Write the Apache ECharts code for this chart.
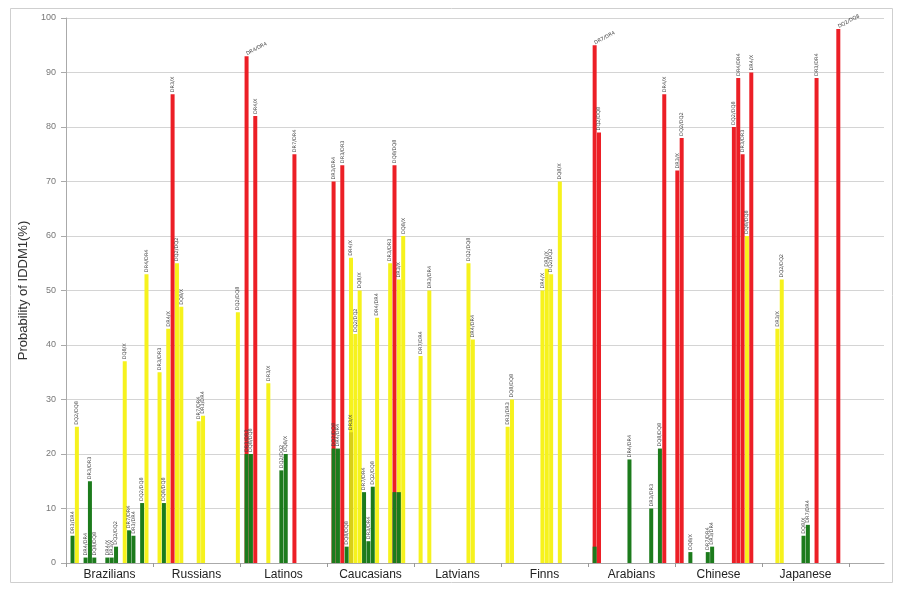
<!DOCTYPE html>
<html>
<head>
<meta charset="utf-8">
<script src="https://cdn.jsdelivr.net/npm/echarts@6/dist/echarts.min.js"></script>
<style>
html,body{margin:0;padding:0;background:#fff;}
#chart{width:899px;height:591px;}
</style>
</head>
<body>
<div id="chart"></div>
<script>
// Population groups (x-axis categories)
const groups = ['Brazilians','Russians','Latinos','Caucasians','Latvians','Finns','Arabians','Chinese','Japanese'];
const yTicks = [0,10,20,30,40,50,60,70,80,90,100];

// Per-group genotype bars, in order within each group (null = empty slot)
// Risk class per slot: H = high (red), M = moderate (yellow), L = low (green), D = moderate overlay, '-' = none
const brazilians      = [null,5,25,null,1,15,1,null,null,1,1,3,null,37,6,5,null,11,53,null];
const braziliansRisk  = '-LM-LLL--LLL-MLL-LM-';
const russians        = [null,35,11,43,86,55,47,null,null,null,26,27,null,null,null,null,null,null,null,46];
const russiansRisk    = '-MLMHMM---MM-------M';
const latinos         = [null,93,20,82,null,null,33,null,null,17,20,null,75,null,null,null,null,null,null,null];
const latinosRisk     = '-HLH--M--LL-H-------';
const caucasians      = [null,70,21,73,3,56,42,50,13,4,14,45,null,null,55,73,52,60,null,null];
const caucasiansRisk  = '-HLHLMMMLLLM--MHMM--';
const latvians        = [null,38,null,50,null,null,null,null,null,null,null,null,55,41,null,null,null,null,null,null];
const latviansRisk    = '-M-M--------MM------';
const finns           = [null,25,30,null,null,null,null,null,null,50,54,53,null,70,null,null,null,null,null,null];
const finnsRisk       = '-MM------MMM-M------';
const arabians        = [null,95,79,null,null,null,null,null,null,19,null,null,null,null,10,null,21,86,null,null];
const arabiansRisk    = '-HH------L----L-LH--';
const chinese         = [72,78,null,2,null,null,null,2,3,null,null,null,null,80,89,75,60,90,null,null];
const chineseRisk     = 'HH-L---LL----HHHMH--';
const japanese        = [null,null,null,43,52,null,null,null,null,5,7,null,89,null,null,null,null,98,null,null];
const japaneseRisk    = '---MM----LL-H----H--';

// Overlaid (lower) genotype bars drawn over the main ones
const latinosOverlay     = [null,20,null,null,null,null,null,null,null,null,null,null,null,null,null,null,null,null,null,null];
const latinosOverlayRisk = '-L------------------';
const caucasiansOverlay     = [null,21,null,null,null,24,null,null,null,null,null,null,null,null,null,13,13,null,null,null];
const caucasiansOverlayRisk = '-L---D---------LL---';
const arabiansOverlay     = [null,3,null,null,null,null,null,null,null,null,null,null,null,null,null,null,null,null,null,null];
const arabiansOverlayRisk = '-L------------------';

// Genotype label texts (illegible in source; generic HLA genotype names)
const genotypeLabels = ['DR3/DR4','DQ2/DQ8','DR4/DR4','DR3/DR3','DQ8/DQ8','DR4/X','DR3/X','DQ2/DQ2','DQ8/X','DR7/DR4'];

const mainByGroup = [brazilians,russians,latinos,caucasians,latvians,finns,arabians,chinese,japanese];
const riskByGroup = [braziliansRisk,russiansRisk,latinosRisk,caucasiansRisk,latviansRisk,finnsRisk,arabiansRisk,chineseRisk,japaneseRisk];
const overlayByGroup = [null,null,latinosOverlay,caucasiansOverlay,null,null,arabiansOverlay,null,null];
const overlayRiskByGroup = [null,null,latinosOverlayRisk,caucasiansOverlayRisk,null,null,arabiansOverlayRisk,null,null];

const colors = {H:'#ec1f26', M:'#f6f21d', L:'#1c7b1c', D:'#d8cf18'};
const SLOTS = 20, TRAIL = 8;

let labelIdx = 0;
function makeItem(v, r, withLabel){
  if (v === null || v === undefined) return '-';
  const txt = genotypeLabels[(labelIdx++) % genotypeLabels.length];
  const tall = v >= 92;
  return {
    value: v,
    itemStyle: {color: colors[r]},
    label: withLabel ? {
      show: true, formatter: txt, position: 'top', distance: 2,
      rotate: tall ? 28 : 90, align: 'left', verticalAlign: 'middle',
      fontSize: 5, color: '#444', fontFamily: 'DejaVu Sans'
    } : {show:false}
  };
}

const mainData = [], overData = [], slotNames = [];
groups.forEach((g, gi) => {
  const vals = mainByGroup[gi], risk = riskByGroup[gi];
  const ov = overlayByGroup[gi], ovr = overlayRiskByGroup[gi];
  for (let k = 0; k < SLOTS; k++) {
    slotNames.push(g + '-' + k);
    mainData.push(makeItem(vals[k], risk[k], true));
    overData.push(ov ? makeItem(ov[k], ovr[k], ov[k] !== null && ov[k] > 15) : '-');
  }
});
for (let k = 0; k < TRAIL; k++) { slotNames.push('pad-' + k); mainData.push('-'); overData.push('-'); }

const chart = echarts.init(document.getElementById('chart'), null, {renderer:'canvas'});
chart.setOption({
  animation: false,
  backgroundColor: '#fff',
  graphic: [{type:'rect', shape:{x:10.5,y:8.5,width:882,height:574}, style:{fill:'none', stroke:'#cfcfcf', lineWidth:1}, silent:true}],
  grid: [
    {left:66, right:15, top:18, bottom:28},
    {left:66, width:783, top:18, bottom:28}
  ],
  xAxis: [
    {type:'category', gridIndex:0, data:slotNames, boundaryGap:true,
     axisLine:{show:true, lineStyle:{color:'#aaaaaa'}}, axisTick:{show:false}, axisLabel:{show:false}, splitLine:{show:false}},
    {type:'category', gridIndex:1, data:groups, boundaryGap:true,
     axisLine:{show:false}, axisTick:{show:true, length:4, lineStyle:{color:'#999'}},
     axisLabel:{color:'#222', fontSize:12, margin:6, fontFamily:'Liberation Sans'}, splitLine:{show:false}}
  ],
  yAxis: [
    {type:'value', gridIndex:0, min:0, max:100, interval:10,
     name:'Probability of IDDM1(%)', nameLocation:'middle', nameGap:33,
     nameTextStyle:{fontSize:13, color:'#333', fontFamily:'Liberation Sans'},
     axisLine:{show:true, lineStyle:{color:'#aaaaaa'}},
     axisTick:{show:true, length:5, lineStyle:{color:'#aaa'}},
     axisLabel:{fontSize:9, color:'#777', margin:10, fontFamily:'Liberation Sans',
       formatter: v => yTicks.indexOf(v) >= 0 ? String(v) : ''},
     splitLine:{show:true, lineStyle:{color:'#d4d4d4', width:1}}},
    {type:'value', gridIndex:1, min:0, max:100, show:false}
  ],
  series: [
    {type:'bar', xAxisIndex:0, yAxisIndex:0, data:mainData, barWidth:4, barGap:'-100%', z:2},
    {type:'bar', xAxisIndex:0, yAxisIndex:0, data:overData, barWidth:4, barGap:'-100%', z:3}
  ]
});
</script>
</body>
</html>
